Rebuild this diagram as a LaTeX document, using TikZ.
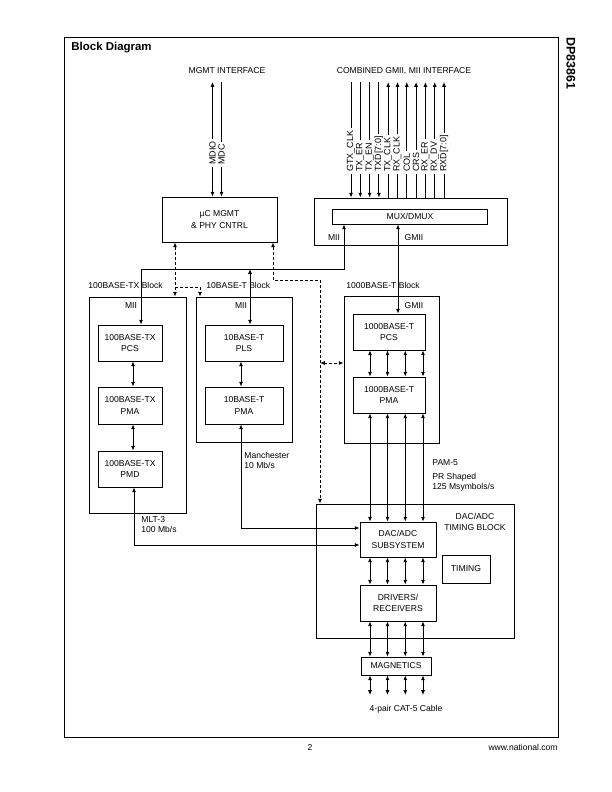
\documentclass[tikz,border=0pt]{standalone}
\usepackage{fontspec}
\setmainfont{Liberation Sans}
\usetikzlibrary{arrows.meta}
\begin{document}
\begin{tikzpicture}[x=1bp,y=-1bp, line width=0.85bp,
  >={Latex[length=4.8bp,width=4bp]},
  fnt/.style={font=\fontsize{8.6}{11.8}\selectfont},
  box/.style={draw, fnt, align=center, inner sep=0pt},
  txt/.style={font=\fontsize{8.6}{10.6}\selectfont, inner sep=0pt, align=left},
  sig/.style={font=\fontsize{9}{9}\selectfont, rotate=90, anchor=west, inner sep=2bp},
  dsh/.style={dash pattern=on 3bp off 2bp}]
\useasboundingbox (0,0) rectangle (612,792);
% frame and page texts
\node[draw, minimum width=494bp, minimum height=700bp, inner sep=0pt] (frame) at (311,387) {};
\node[anchor=west, inner sep=0pt, font=\fontsize{11.5}{12}\selectfont\bfseries] (title) at (71,48) {Block Diagram};
\node[rotate=-90, anchor=west, inner sep=0pt, font=\fontsize{12.5}{13}\selectfont\bfseries] (part) at (571,37) {DP83861};
\node[txt] (pg) at (310,747) {2};
\node[txt, anchor=east] (web) at (558,747) {www.national.com};
% interface titles
\node[txt] (mgmtif) at (227,71) {MGMT INTERFACE};
\node[txt] (combif) at (404,71) {COMBINED GMII, MII INTERFACE};
\coordinate (top) at (0,82);
% boxes
\node[box, minimum width=115bp, minimum height=45bp] (uc) at (219.5,219.5) {\textmu C MGMT\\\& PHY CNTRL};
\node[draw, minimum width=193bp, minimum height=47bp, inner sep=0pt] (muxo) at (411,221.5) {};
\node[box, minimum width=155bp, minimum height=15bp] (mux) at (410,216.5) {MUX/DMUX};
% 100BASE-TX block
\node[draw, minimum width=97bp, minimum height=216bp, inner sep=0pt] (b100) at (137.5,405) {};
\node[box, minimum width=64bp, minimum height=36bp] (pcs100) at (130,343) {100BASE-TX\\PCS};
\node[box, minimum width=64bp, minimum height=37bp] (pma100) at (130,405.5) {100BASE-TX\\PMA};
\node[box, minimum width=64bp, minimum height=36bp] (pmd100) at (130,469) {100BASE-TX\\PMD};
% 10BASE-T block
\node[draw, minimum width=96bp, minimum height=145bp, inner sep=0pt] (b10) at (244,369.5) {};
\node[box, minimum width=78bp, minimum height=36bp] (pls10) at (244,343) {10BASE-T\\PLS};
\node[box, minimum width=78bp, minimum height=37bp] (pma10) at (244,405.5) {10BASE-T\\PMA};
% 1000BASE-T block
\node[draw, minimum width=95bp, minimum height=147bp, inner sep=0pt] (b1000) at (391.5,369.5) {};
\node[box, minimum width=72bp, minimum height=36bp] (pcs1000) at (389,332) {1000BASE-T\\PCS};
\node[box, minimum width=72bp, minimum height=36bp] (pma1000) at (389,395) {1000BASE-T\\PMA};
% DAC/ADC block
\node[draw, minimum width=198bp, minimum height=134bp, inner sep=0pt] (dacb) at (415,571) {};
\node[box, minimum width=76bp, minimum height=35bp] (dacs) at (398,539.5) {DAC/ADC\\SUBSYSTEM};
\node[box, minimum width=48bp, minimum height=28bp] (timing) at (466,569) {TIMING};
\node[box, minimum width=76bp, minimum height=36bp] (drv) at (398,603) {DRIVERS/\\RECEIVERS};
\node[box, minimum width=70bp, minimum height=18bp] (mag) at (396,666) {MAGNETICS};
% labels
\node[txt, anchor=west] (l100) at (88,285) {100BASE-TX Block};
\node[txt, anchor=west] (l10) at (206,285) {10BASE-T Block};
\node[txt, anchor=west] (l1000) at (346,285) {1000BASE-T Block};
\node[txt] (mii100) at (131,306) {MII};
\node[txt] (mii10) at (241,306) {MII};
\node[txt] (gmii1000) at (414,306) {GMII};
\node[txt] (miimux) at (334,238) {MII};
\node[txt] (gmiimux) at (414,238) {GMII};
\node[txt, anchor=north west] (manch) at (244,451.5) {Manchester\\10 Mb/s};
\node[txt, anchor=north west] (mlt) at (141,516) {MLT-3\\100 Mb/s};
\node[txt, anchor=west] (pam) at (432,463) {PAM-5};
\node[txt, anchor=north west] (prs) at (432,472.5) {PR Shaped\\125 Msymbols/s};
\node[txt, align=center] (dacl) at (475,522) {DAC/ADC\\TIMING BLOCK};
\node[txt] (cable) at (406,709) {4-pair CAT-5 Cable};
% MGMT signals
\node[sig] (mdio) at (212.5,167) {MDIO};
\node[sig] (mdc) at (221.5,167) {MDC};
\draw[->] (mdio.east) -- (mdio.east |- top);
\draw[->] (mdio.west) -- (mdio.west |- uc.north);
\draw (mdc.east) -- (mdc.east |- top);
\draw[->] (mdc.west) -- (mdc.west |- uc.north);
% GMII / MII signals
\foreach \n/\t [count=\i from 0] in {s0/GTX\_CLK, s1/TX\_ER, s2/TX\_EN, s3/TXD[7:0]} {
  \node[sig] (\n) at (351+9.3*\i,174) {\t};
  \draw (\n.east) -- (\n.east |- top);
  \draw[->] (\n.west) -- (\n.west |- muxo.north);
}
\foreach \n/\t [count=\i from 4] in {s4/TX\_CLK, s5/RX\_CLK, s6/COL, s7/CRS, s8/RX\_ER, s9/RX\_DV, s10/RXD[7:0]} {
  \node[sig] (\n) at (351+9.3*\i,174) {\t};
  \draw[->] (\n.east) -- (\n.east |- top);
  \draw (\n.west) -- (\n.west |- muxo.north);
}
% MII / GMII paths
\coordinate (mj) at (344,269);
\coordinate (tj) at (141,269);
\coordinate (tenj) at (250,269);
\coordinate (gx) at (398,0);
\draw[<->] (mux.south -| mj) -- (mj) -- (tj) -- (tj |- pcs100.north);
\draw[<->] (tenj) -- (tenj |- pls10.north);
\draw[<->] (mux.south -| gx) -- (pcs1000.north -| gx);
% internal arrows
\coordinate (ax100) at (133,0);
\coordinate (ax10) at (241,0);
\draw[<->] (pcs100.south -| ax100) -- (pma100.north -| ax100);
\draw[<->] (pma100.south -| ax100) -- (pmd100.north -| ax100);
\draw[<->] (pls10.south -| ax10) -- (pma10.north -| ax10);
% dashed control
\coordinate (d1) at (175,287);
\coordinate (d2) at (200,287);
\coordinate (d3) at (273,280);
\coordinate (d4) at (320,280);
\coordinate (d5) at (320,363);
\draw[dsh,<->] (uc.south -| d1) -- (d1 |- b100.north);
\draw[dsh,->] (d1) -- (d2) -- (d2 |- b10.north);
\draw[dsh,<->] (uc.south -| d3) -- (d3) -- (d4) -- (d4 |- dacb.north);
\draw[dsh,<->] (d5) -- (d5 -| b1000.west);
% line paths to DAC
\coordinate (m1) at (241,528);
\coordinate (m2) at (134,545);
\draw[<->] (pma10.south -| m1) -- (m1) -- (m1 -| dacs.west);
\draw[<->] (pmd100.south -| m2) -- (m2) -- (m2 -| dacs.west);
% four-pair arrows
\coordinate (q1) at (370,0);
\coordinate (q2) at (387.5,0);
\coordinate (q3) at (405.3,0);
\coordinate (q4) at (423,0);
\coordinate (cab) at (0,695);
\foreach \i in {1,...,4} {
  \draw[<->] (pcs1000.south -| q\i) -- (pma1000.north -| q\i);
  \draw[<->] (pma1000.south -| q\i) -- (dacs.north -| q\i);
  \draw[<->] (dacs.south -| q\i) -- (drv.north -| q\i);
  \draw[<->] (drv.south -| q\i) -- (mag.north -| q\i);
  \draw[<->] (mag.south -| q\i) -- (q\i |- cab);
}
\end{tikzpicture}
\end{document}
